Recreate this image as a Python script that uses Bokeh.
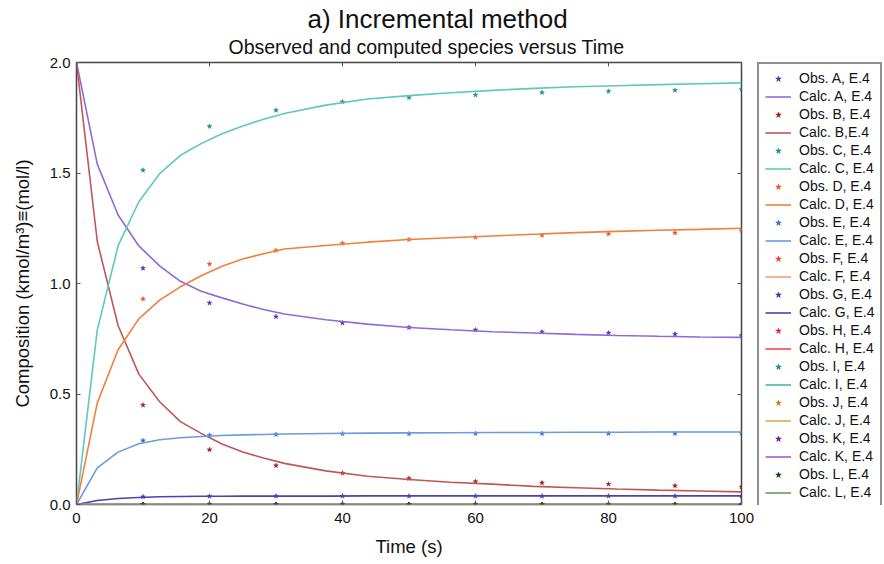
from bokeh.plotting import figure
from bokeh.layouts import row
from bokeh.models import (Legend, LegendItem, LinearAxis, FixedTicker, Title,
                          NumeralTickFormatter, Range1d, CustomLabelingPolicy)
from bokeh.embed import file_html
from bokeh.resources import INLINE

# ---------------- data ----------------
t_calc = [0, 3.125, 6.25, 9.375, 12.5, 15.625, 18.75, 21.875, 25, 28.125, 31.25,
          37.5, 43.75, 50, 56.25, 62.5, 68.75, 75, 81.25, 87.5, 93.75, 100]
calc_A = [2.0, 1.54, 1.31, 1.17, 1.08, 1.01, 0.965, 0.935, 0.907, 0.882, 0.862,
          0.836, 0.816, 0.801, 0.791, 0.782, 0.776, 0.770, 0.765, 0.761, 0.758, 0.756]
calc_B = [2.0, 1.19, 0.81, 0.59, 0.465, 0.375, 0.322, 0.274, 0.238, 0.21, 0.186,
          0.152, 0.128, 0.113, 0.101, 0.092, 0.082, 0.076, 0.070, 0.065, 0.061, 0.057]
calc_C = [0.0, 0.79, 1.17, 1.37, 1.497, 1.58, 1.633, 1.678, 1.713, 1.743, 1.769,
          1.807, 1.835, 1.850, 1.863, 1.874, 1.883, 1.890, 1.895, 1.900, 1.904, 1.908]
calc_D = [0.0, 0.46, 0.70, 0.84, 0.925, 0.985, 1.035, 1.078, 1.111, 1.135, 1.156,
          1.172, 1.187, 1.199, 1.207, 1.215, 1.223, 1.230, 1.236, 1.241, 1.245, 1.250]
calc_E = [0.0, 0.166, 0.237, 0.275, 0.293, 0.302, 0.308, 0.312, 0.315, 0.317, 0.319,
          0.321, 0.323, 0.324, 0.325, 0.326, 0.326, 0.327, 0.327, 0.328, 0.328, 0.328]
calc_G = [0.0, 0.018, 0.027, 0.032, 0.035, 0.036, 0.037, 0.037, 0.038, 0.038, 0.038,
          0.038, 0.039, 0.039, 0.039, 0.039, 0.039, 0.039, 0.039, 0.039, 0.039, 0.039]
calc_zero = [0.0, 0.0, 0.0, 0.0, 0.0, 0.0, 0.0, 0.0, 0.0, 0.0, 0.0,
             0.0, 0.0, 0.0, 0.0, 0.0, 0.0, 0.0, 0.0, 0.0, 0.0, 0.0]

t_obs = [10, 20, 30, 40, 50, 60, 70, 80, 90, 100]
obs_A = [1.069, 0.912, 0.850, 0.821, 0.801, 0.790, 0.781, 0.776, 0.771, 0.765]
obs_B = [0.450, 0.248, 0.176, 0.142, 0.118, 0.104, 0.098, 0.092, 0.085, 0.080]
obs_C = [1.513, 1.711, 1.784, 1.822, 1.841, 1.853, 1.864, 1.870, 1.874, 1.879]
obs_D = [0.930, 1.088, 1.149, 1.182, 1.199, 1.209, 1.218, 1.224, 1.229, 1.240]
obs_E = [0.289, 0.313, 0.317, 0.320, 0.320, 0.321, 0.321, 0.321, 0.321, 0.322]
obs_G = [0.035, 0.037, 0.038, 0.038, 0.038, 0.038, 0.038, 0.038, 0.038, 0.038]
obs_zero = [0.0, 0.0, 0.0, 0.0, 0.0, 0.0, 0.0, 0.0, 0.0, 0.0]

species = ["A", "B", "C", "D", "E", "F", "G", "H", "I", "J", "K", "L"]
obs_series = [obs_A, obs_B, obs_C, obs_D, obs_E, obs_zero, obs_G,
              obs_zero, obs_zero, obs_zero, obs_zero, obs_zero]
calc_series = [calc_A, calc_B, calc_C, calc_D, calc_E, calc_zero, calc_G,
               calc_zero, calc_zero, calc_zero, calc_zero, calc_zero]
obs_labels = ["Obs. A, E.4", "Obs. B, E.4", "Obs. C, E.4", "Obs. D, E.4",
              "Obs. E, E.4", "Obs. F, E.4", "Obs. G, E.4", "Obs. H, E.4",
              "Obs. I, E.4", "Obs. J, E.4", "Obs. K, E.4", "Obs. L, E.4"]
calc_labels = ["Calc. A, E.4", "Calc. B,E.4", "Calc. C, E.4", "Calc. D, E.4",
               "Calc. E, E.4", "Calc. F, E.4", "Calc. G, E.4", "Calc. H, E.4",
               "Calc. I, E.4", "Calc. J, E.4", "Calc. K, E.4", "Calc. L, E.4"]
obs_colors = ["#4B2DB5", "#9B1B1F", "#178E85", "#E8521E", "#2F6CC4", "#F03A22",
              "#3A2FA8", "#E8203A", "#0E8C78", "#B8860B", "#6C0DAA", "#0E3D12"]
calc_colors = ["#8F6BD8", "#C1565A", "#5EC8BE", "#F08040", "#6B9BDC", "#F5A07A",
               "#4B40B5", "#F04458", "#40BBA8", "#D8B050", "#A85AD0", "#6A9A5A"]

x_ticks = [0, 20, 40, 60, 80, 100]
y_ticks = [0.0, 0.5, 1.0, 1.5, 2.0]

FONT = "Liberation Sans"

# ---------------- main figure ----------------
p = figure(frame_width=665, frame_height=442,
           x_range=Range1d(0, 100), y_range=Range1d(0, 2),
           output_backend="svg", toolbar_location=None, title=None,
           min_border_left=76, min_border_top=0, min_border_bottom=40,
           min_border_right=16)
p.background_fill_color = "white"
p.border_fill_color = "white"
p.outline_line_color = "#444444"
p.outline_line_width = 1.5
p.xgrid.grid_line_color = None
p.ygrid.grid_line_color = None

no_labels = CustomLabelingPolicy(code="return new Set()")

def style_axis(ax, show_labels):
    ax.axis_line_color = None
    ax.major_tick_in = 4
    ax.major_tick_out = 0
    ax.minor_tick_line_color = None
    ax.major_tick_line_color = "#555555"
    ax.major_tick_line_width = 1
    ax.major_label_text_font = FONT
    ax.major_label_text_font_size = "15px"
    ax.major_label_text_color = "#111111"
    if not show_labels:
        ax.major_label_policy = no_labels

xa = p.xaxis[0]
ya = p.yaxis[0]
xa.ticker = FixedTicker(ticks=x_ticks)
ya.ticker = FixedTicker(ticks=y_ticks)
ya.formatter = NumeralTickFormatter(format="0.0")
style_axis(xa, True)
style_axis(ya, True)
xa.major_label_standoff = 8
ya.major_label_standoff = 6
xa.axis_label = "Time (s)"
ya.axis_label = "Composition (kmol/m\u00b3)\u2261(mol/l)"
for ax in (xa, ya):
    ax.axis_label_text_font = FONT
    ax.axis_label_text_font_size = "18.5px"
    ax.axis_label_text_font_style = "normal"
    ax.axis_label_text_color = "#111111"
xa.axis_label_standoff = 10
ya.axis_label_standoff = 14

top_ax = LinearAxis(ticker=FixedTicker(ticks=x_ticks))
style_axis(top_ax, False)
top_ax.major_label_standoff = -8
p.add_layout(top_ax, "above")
right_ax = LinearAxis(ticker=FixedTicker(ticks=y_ticks))
style_axis(right_ax, False)
right_ax.major_label_standoff = -20
p.add_layout(right_ax, "right")

sub = Title(text="Observed and computed species versus Time", align="left",
            offset=152, text_font=FONT, text_font_size="19.5px",
            text_font_style="normal", text_color="#111111", standoff=0)
p.add_layout(sub, "above")
main = Title(text="a) Incremental method", align="left", offset=231,
             text_font=FONT, text_font_size="26px", text_font_style="normal",
             text_color="#111111", standoff=0)
p.add_layout(main, "above")

for i, s in enumerate(species):
    p.scatter(t_obs, obs_series[i], marker="star", size=5,
              fill_color=obs_colors[i], line_color=obs_colors[i], line_width=0.5)
    p.line(t_calc, calc_series[i], line_color=calc_colors[i], line_width=1.6)

# ---------------- legend panel (key only; its renderers are hidden) ----------------
lg = figure(width=125, height=560, output_backend="svg", toolbar_location=None,
            title=None, x_axis_type=None, y_axis_type=None,
            min_border_left=0, min_border_right=0, min_border_top=62,
            min_border_bottom=0)
lg.outline_line_color = None
lg.background_fill_color = "white"
lg.border_fill_color = "white"
lg.xgrid.grid_line_color = None
lg.ygrid.grid_line_color = None

items = []
for i, s in enumerate(species):
    k_obs = lg.scatter(t_obs, obs_series[i], marker="star", size=6,
                       fill_color=obs_colors[i], line_color=obs_colors[i],
                       line_width=0.5, visible=False)
    k_calc = lg.line(t_calc, calc_series[i], line_color=calc_colors[i],
                     line_width=1.6, visible=False)
    items.append(LegendItem(label=obs_labels[i], renderers=[k_obs]))
    items.append(LegendItem(label=calc_labels[i], renderers=[k_calc]))

legend = Legend(items=items, location="top_left", margin=0, padding=6,
                spacing=2, glyph_width=26, glyph_height=15, label_height=15,
                label_standoff=8, label_text_font=FONT,
                label_text_font_size="14px", label_text_color="#111111",
                border_line_color="#222222", border_line_width=2,
                background_fill_color="white", background_fill_alpha=1.0,
                inactive_fill_alpha=0.0)
lg.add_layout(legend)

layout = row(p, lg, spacing=0)
open("out.html", "w").write(file_html(layout, INLINE))
